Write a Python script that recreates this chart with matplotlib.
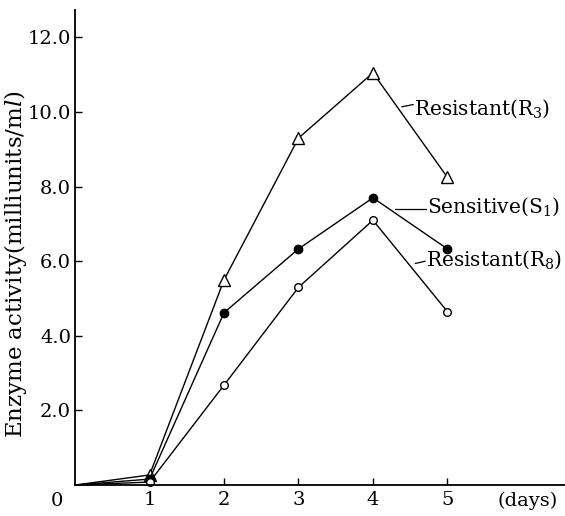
import matplotlib
matplotlib.use('Agg')
import matplotlib.pyplot as plt

plt.rcParams['font.family'] = ['DejaVu Serif']
plt.rcParams['mathtext.fontset'] = 'dejavuserif'

days = [0, 1, 2, 3, 4, 5]
resistant_r3 = [0, 0.27, 5.5, 9.3, 11.05, 8.25]
sensitive_s1 = [0, 0.16, 4.62, 6.33, 7.7, 6.33]
resistant_r8 = [0, 0.08, 2.68, 5.3, 7.1, 4.65]

yticks = [2, 4, 6, 8, 10, 12]
ytick_labels = ['2.0', '4.0', '6.0', '8.0', '10.0', '12.0']
xticks = [1, 2, 3, 4, 5]

fig = plt.figure(figsize=(5.65, 5.16), dpi=100)
ax = fig.add_axes([0.133, 0.060, 0.867, 0.921])

mk = dict(color='black', lw=1.0, markevery=range(1, 6), clip_on=False)
ax.plot(days, resistant_r3, marker='^', ms=8.5, mfc='white', mec='black', mew=1.0, **mk)
ax.plot(days, sensitive_s1, marker='o', ms=6, mfc='black', mec='black', **mk)
ax.plot(days, resistant_r8, marker='o', ms=5.5, mfc='white', mec='black', mew=1.0, **mk)

# labels with short leader lines
lab = dict(fontsize=14.5, va='center', ha='left')
ax.plot([4.39, 4.54], [10.14, 10.2], color='black', lw=0.9)
ax.text(4.55, 10.1, 'Resistant(R$_3$)', **lab)
ax.plot([4.3, 4.71], [7.4, 7.4], color='black', lw=0.9)
ax.text(4.72, 7.45, 'Sensitive(S$_1$)', **lab)
ax.plot([4.57, 4.7], [5.94, 6.0], color='black', lw=0.9)
ax.text(4.71, 6.05, 'Resistant(R$_8$)', **lab)

ax.set_xlim(0, 6.58)
ax.set_ylim(0, 12.74)
ax.set_xticks(xticks)
ax.set_xticklabels([str(x) for x in xticks])
ax.set_yticks(yticks)
ax.set_yticklabels(ytick_labels)
ax.tick_params(direction='in', length=5, width=1.0, labelsize=14)
ax.tick_params(axis='y', pad=3)
ax.tick_params(axis='x', pad=4)
ax.spines['top'].set_visible(False)
ax.spines['right'].set_visible(False)
ax.spines['left'].set_linewidth(1.3)
ax.spines['bottom'].set_linewidth(1.3)

ax.text(-0.24, -0.42, '0', fontsize=14, ha='center', va='center')
ax.text(6.08, -0.42, '(days)', fontsize=14, ha='center', va='center')
ax.set_ylabel('Enzyme activity(milliunits/m$l$)', fontsize=16.5)
ax.yaxis.set_label_coords(-0.094, 0.465)

fig.savefig('out.png', dpi=100)
